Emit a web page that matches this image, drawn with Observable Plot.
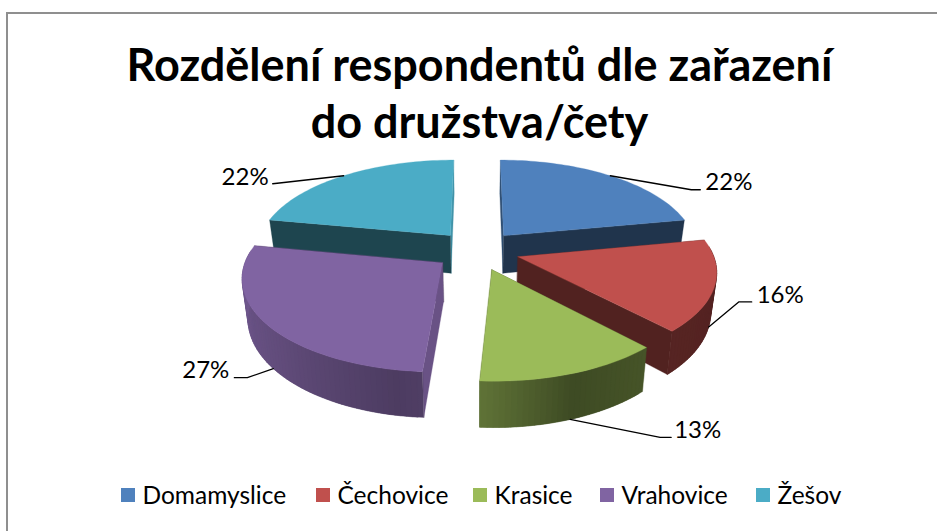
<!DOCTYPE html>
<html lang="cs">
<head>
<meta charset="utf-8">
<script src="https://cdn.jsdelivr.net/npm/d3@7"></script>
<script src="https://cdn.jsdelivr.net/npm/@observablehq/plot@0.6"></script>
<style>
html,body{margin:0;padding:0;background:#fff;width:937px;height:531px;overflow:hidden}
#frame{position:absolute;left:6px;top:12px;width:1000px;height:600px;border:2px solid #8f8f8f;box-sizing:border-box}
#title{position:absolute;left:0;top:36px;width:959px;text-align:center;font:700 45px/57px Lato,sans-serif;color:#000;}
#chart{position:absolute;left:0;top:150px}
#legend{position:absolute;left:0;top:480px;height:30px;font:400 24.5px/30px Lato,sans-serif;color:#000}
#legend span{position:absolute;white-space:nowrap;top:0}
#legend i{position:absolute;top:8px;width:14px;height:14px}
svg text{font-family:Lato,sans-serif}
</style>
</head>
<body>
<div id="frame"></div>
<div id="title">Rozdělení respondentů dle zařazení<br>do družstva/čety</div>
<div id="chart"></div>
<div id="legend"></div>
<script>
const categories = ["Domamyslice", "Čechovice", "Krasice", "Vrahovice", "Žešov"];
const values = [22, 16, 13, 27, 22];
const colors = ["#4F81BD", "#C0504D", "#9BBB59", "#8064A2", "#4BACC6"];
const legendSwatchX = [121, 316, 473, 600, 756];

// 3D projection of the pie, in SVG units
const W = 937, H = 320, CX = 476.5, CY = 100;
const RX = 194, RY = 90, K = 0.14, EXPLODE = 0.22, DEPTH = 38.5, BOTTOM_X = 0.975;
const rad = d => d * Math.PI / 180;

const total = d3.sum(values);
let run = 0;
const slices = categories.map((name, i) => {
  const a0 = run / total * 360; run += values[i]; const a1 = run / total * 360;
  return {name, i, value: values[i], a0, a1, mid: (a0 + a1) / 2, color: colors[i]};
});
function project(s, r, a, bottom) {
  const ex = EXPLODE * Math.sin(rad(s.mid)), ey = EXPLODE * Math.cos(rad(s.mid));
  const u = r * Math.sin(rad(a)) + ex, v = r * Math.cos(rad(a)) + ey;
  const p = 1 / (1 + K * v);
  const fx = bottom ? BOTTOM_X : 1;
  return [CX + RX * u * p * fx, CY - RY * v * p + (bottom ? DEPTH * p : 0)];
}
const shade = (c, f) => { const q = d3.rgb(c); return d3.rgb(q.r * f, q.g * f, q.b * f).formatHex(); };
const wallShade = d3.scaleLinear()
  .domain([0, 79, 137, 160, 184, 190, 225, 265, 360])
  .range([.42, .42, .45, .40, .62, .60, .75, .87, .87]);
// flat radial wall brightness: first edge, second edge
const radialShade = [[.62, .40], [.42, .42], [.45, .45], [.82, .45], [.40, .85]];

const polys = [];
const STEP = 1.5;
const order = [4, 0, 1, 3, 2]; // painter's order, back to front
for (const i of order) {
  const s = slices[i];
  const angles = d3.range(s.a0, s.a1, STEP).concat(s.a1);
  const add = (pts, fill) => {
    const id = polys.length ? polys[polys.length - 1].id + 1 : 0;
    for (const [x, y] of pts) polys.push({id, x, y, fill});
  };
  const wall = (a, f) => add([project(s, 0, a), project(s, 1, a), project(s, 1, a, true), project(s, 0, a, true)], shade(s.color, f));
  // radial walls, the one further back first
  const [w0, w1] = radialShade[i];
  const w = [[s.a0, w0], [s.a1, w1]];
  w.sort((p, q) => Math.cos(rad(q[0])) - Math.cos(rad(p[0])));
  w.forEach(([a, f]) => wall(a, f));
  // outer curved wall, only the part that faces the viewer; each piece overlaps the next
  for (let k = 0; k < angles.length - 1; k++) {
    const a = angles[k], b = angles[Math.min(k + 2, angles.length - 1)];
    if (Math.cos(rad((a + angles[k + 1]) / 2)) > 0.12) continue;
    add([project(s, 1, a), project(s, 1, b), project(s, 1, b, true), project(s, 1, a, true)],
        shade(s.color, wallShade((a + angles[k + 1]) / 2)));
  }
  // top face
  add([project(s, 0, s.mid), ...angles.map(a => project(s, 1, a))], s.color);
}

// leader lines: offsets of elbow and end from the point at the slice's mid-angle
const leaderOffsets = [[[81, 14], [90, 14]], [[30, -25], [43, -25]], [[90, 18], [101, 18]], [[-26, 9], [-39, 9]], [[-62, 7], [-71, 8]]];
const labelAnchor = ["start", "start", "start", "end", "end"];
const labelGap = [5, 5, 3, 5, 4];
const labelDy = [-7, -7, -7.5, -7.5, -6.5];
const leaders = [], labels = [];
slices.forEach((s, i) => {
  const start = project(s, 1, s.mid, i >= 1 && i <= 3);
  const pts = [start, ...leaderOffsets[i].map(([dx, dy]) => [start[0] + dx, start[1] + dy])];
  pts.forEach(([x, y]) => leaders.push({id: i, x, y}));
  const e = pts[pts.length - 1];
  const sign = labelAnchor[i] === "start" ? 1 : -1;
  labels.push({x: e[0] + sign * labelGap[i], y: e[1] + labelDy[i], text: s.value + "%", anchor: labelAnchor[i]});
});

const chart = Plot.plot({
  width: W, height: H, margin: 0,
  x: {type: "linear", domain: [0, W], range: [0, W], axis: null},
  y: {type: "linear", domain: [0, H], range: [0, H], axis: null},
  color: {type: "identity"},
  marks: [
    Plot.line(polys, {x: "x", y: "y", z: "id", fill: "fill", stroke: "fill", strokeWidth: 0.3, curve: "linear-closed"}),
    Plot.line(leaders, {x: "x", y: "y", z: "id", stroke: "#000", strokeWidth: 1.3, curve: "linear"}),
    Plot.text(labels.filter(d => d.anchor === "start"), {x: "x", y: "y", text: "text", textAnchor: "start", fontSize: 24, fill: "#000"}),
    Plot.text(labels.filter(d => d.anchor === "end"), {x: "x", y: "y", text: "text", textAnchor: "end", fontSize: 24, fill: "#000"})
  ]
});
chart.style.background = "transparent";
document.getElementById("chart").append(chart);

const legend = document.getElementById("legend");
categories.forEach((c, i) => {
  const sw = document.createElement("i");
  sw.style.left = legendSwatchX[i] + "px"; sw.style.background = colors[i];
  const t = document.createElement("span");
  t.style.left = (legendSwatchX[i] + 21.5) + "px"; t.textContent = c;
  legend.append(sw, t);
});
</script>
</body>
</html>
